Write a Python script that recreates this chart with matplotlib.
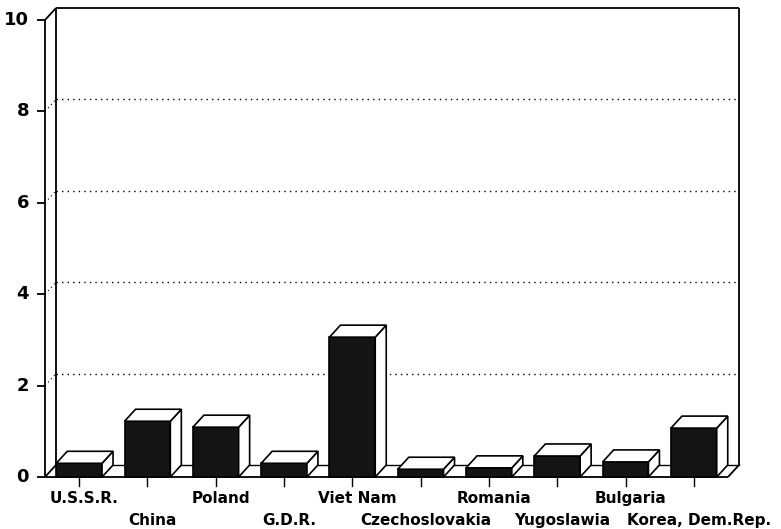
import matplotlib
matplotlib.use("Agg")
import matplotlib.pyplot as plt
from matplotlib.patches import Polygon, Rectangle

countries = ["U.S.S.R.", "China", "Poland", "G.D.R.", "Viet Nam",
             "Czechoslovakia", "Romania", "Yugoslawia", "Bulgaria", "Korea, Dem.Rep."]
values = [0.30, 1.22, 1.09, 0.30, 3.06, 0.17, 0.20, 0.46, 0.33, 1.07]
yticks = [0, 2, 4, 6, 8, 10]

W, H = 781, 529
fig = plt.figure(figsize=(W / 100, H / 100), dpi=100)
x0px, x1px, y0px, y10px = 45, 728, 477, 20
ax = fig.add_axes([x0px / W, (H - y0px) / H, (x1px - x0px) / W, (y0px - y10px) / H])
n = len(values)
ax.set_xlim(-0.5, n - 0.5)
ax.set_ylim(0, 10)
ax.axis("off")

pxx = (x1px - x0px) / n
pxy = (y0px - y10px) / 10
dx = 11 / pxx
dy = 12 / pxy
L, R = -0.5, n - 0.5
lw = 1.3
kw = dict(color="black", lw=lw, clip_on=False, solid_capstyle="butt")

# left wall
ax.plot([L, L], [0, 10], **kw)
ax.plot([L, L + dx], [10, 10 + dy], **kw)
ax.plot([L + dx, L + dx], [dy, 10 + dy], **kw)
ax.plot([L, L + dx], [0, dy], **kw)
# back top & right
ax.plot([L + dx, R + dx], [10 + dy, 10 + dy], **kw)
ax.plot([R + dx, R + dx], [dy, 10 + dy], **kw)
# floor
ax.plot([L, R], [0, 0], **kw)
ax.plot([R, R + dx], [0, dy], **kw)
ax.plot([L + dx, R + dx], [dy, dy], color="black", lw=1.0, clip_on=False, zorder=1)

# gridlines on back wall
for t in yticks[1:-1]:
    ax.plot([L + dx, R + dx], [t + dy, t + dy], color="black", lw=1.0,
            linestyle=(0, (1, 3)), clip_on=False)
    ax.plot([L, L + dx], [t, t + dy], color="black", lw=0.8,
            linestyle=(0, (1, 3)), clip_on=False)

# y ticks and labels
for t in yticks:
    ax.plot([L - 8 / pxx, L], [t, t], **kw)
    ax.text(L - 16 / pxx, t, str(t), ha="right", va="center",
            fontsize=13, fontweight="bold", family="DejaVu Sans")

# bars
bw = 0.67
for i, v in enumerate(values):
    a, b = i - bw / 2, i + bw / 2
    ax.add_patch(Rectangle((a, 0), bw, v, facecolor="#141414", edgecolor="black",
                           lw=1.2, clip_on=False, zorder=3))
    ax.add_patch(Polygon([(b, 0), (b + dx, dy), (b + dx, v + dy), (b, v)],
                         closed=True, facecolor="white", edgecolor="black",
                         lw=1.2, clip_on=False, zorder=3))
    ax.add_patch(Polygon([(a, v), (a + dx, v + dy), (b + dx, v + dy), (b, v)],
                         closed=True, facecolor="white", edgecolor="black",
                         lw=1.2, clip_on=False, zorder=3))
    # x tick
    ax.plot([i, i], [0, -9 / pxy], color="black", lw=1.0, clip_on=False)
    ly = -(26 / pxy) if i % 2 == 0 else -(48 / pxy)
    ax.text(i + 5 / pxx, ly, countries[i], ha="center", va="baseline", fontsize=11,
            fontweight="bold", family="DejaVu Sans")

fig.savefig("out.png", dpi=100)
